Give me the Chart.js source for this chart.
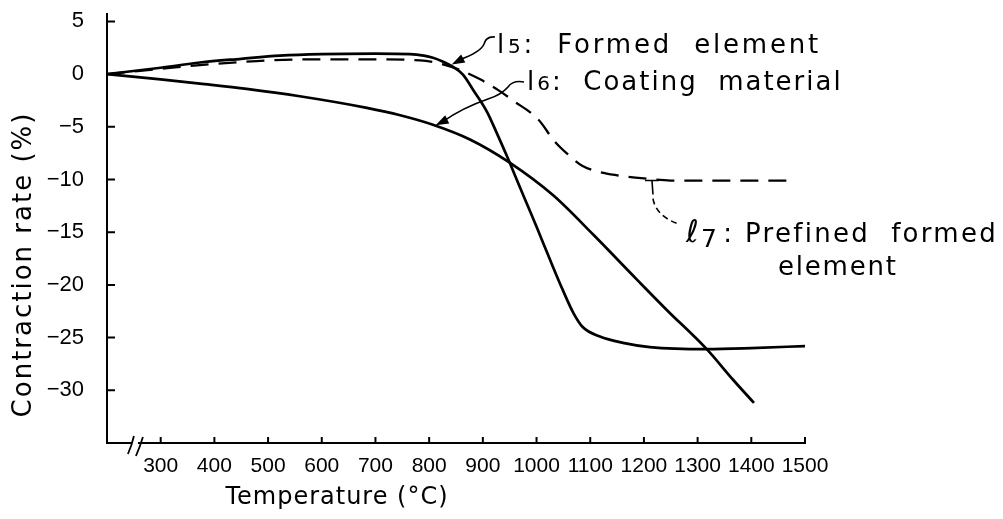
<!DOCTYPE html>
<html><head><meta charset="utf-8">
<script src="https://cdn.jsdelivr.net/npm/chart.js@4.4.0/dist/chart.umd.min.js"></script>
<style>html,body{margin:0;padding:0;background:#fff;overflow:hidden}#wrap{width:1003px;height:519px}</style>
</head><body><div id="wrap"><canvas id="c" width="1003" height="519"></canvas></div>
<script>
// ---- data (Temperature °C, contraction rate %) ----
const formedTemp = [200, 300, 373, 450, 522, 600, 700, 764, 790, 807, 825, 844, 863, 882, 908, 926, 945, 963, 982, 1001, 1025, 1049, 1068, 1086, 1118, 1161, 1211, 1317, 1400, 1500];
const formedRate = [0, 0.6, 1.1, 1.45, 1.75, 1.9, 1.95, 1.9, 1.75, 1.55, 1.2, 0.7, -0.05, -1.5, -3.6, -5.6, -7.8, -10, -12.3, -14.6, -17.6, -20.5, -22.6, -24, -24.9, -25.5, -25.9, -26.1, -26.0, -25.8];
const coatingTemp = [200, 300, 373, 460, 559, 684, 746, 807, 876, 950, 1031, 1105, 1187, 1243, 1317, 1366, 1405];
const coatingRate = [0, -0.5, -0.9, -1.4, -2.1, -3.2, -3.9, -4.8, -6.2, -8.4, -11.5, -15.2, -19.5, -22.4, -26.1, -29, -31.2];
const prefinedTemp = [200, 300, 373, 450, 500, 600, 700, 783, 820, 857, 895, 928, 956, 1003, 1034, 1058, 1085, 1118, 1150, 1200, 1250, 1350, 1470];
const prefinedRate = [0, 0.5, 0.85, 1.15, 1.3, 1.4, 1.4, 1.3, 1.0, 0.4, -0.5, -1.5, -2.5, -4.3, -6.4, -7.6, -8.7, -9.3, -9.6, -9.9, -10.1, -10.1, -10.1];
const xTickLabels = [300, 400, 500, 600, 700, 800, 900, 1000, 1100, 1200, 1300, 1400, 1500];
const yTickLabels = [-30, -25, -20, -15, -10, -5, 0, 5];
const seriesNames = ['l5: Formed element', 'l6: Coating material', 'l7: Prefined formed element'];

const pts = (xs, ys) => xs.map((v, i) => ({x: v, y: ys[i]}));

// allow letter spacing / offset on axis titles
const origDrawTitle = Chart.Scale.prototype.drawTitle;
Chart.Scale.prototype.drawTitle = function () {
  const t = this.options.title || {};
  const ctx = this.ctx;
  ctx.save();
  if (t.letterSpacing) ctx.letterSpacing = t.letterSpacing;
  ctx.translate(t.offsetX || 0, t.offsetY || 0);
  origDrawTitle.call(this);
  ctx.restore();
};

function drawRuns(ctx, x, y, runs, spacing) {
  ctx.letterSpacing = spacing + 'px';
  ctx.textBaseline = 'alphabetic';
  ctx.textAlign = 'left';
  ctx.fillStyle = '#000';
  runs.forEach(r => {
    ctx.font = r.font;
    ctx.fillText(r.t, x, y + (r.dy || 0));
    x += ctx.measureText(r.t).width + (r.dx || 0);
  });
}
function arrowHead(ctx, from, tip) {
  const a = Math.atan2(tip[1] - from[1], tip[0] - from[0]);
  const L = 13, W = 4.5, c = Math.cos(a), s = Math.sin(a);
  ctx.beginPath();
  ctx.moveTo(tip[0], tip[1]);
  ctx.lineTo(tip[0] - L * c + W * s, tip[1] - L * s - W * c);
  ctx.lineTo(tip[0] - L * c - W * s, tip[1] - L * s + W * c);
  ctx.closePath();
  ctx.fill();
}

const F = '"DejaVu Sans", sans-serif';
const decor = {
  id: 'decor',
  afterDraw(chart) {
    const {ctx, scales: {x, y}} = chart;
    ctx.save();
    ctx.strokeStyle = '#000';
    ctx.fillStyle = '#000';
    ctx.lineWidth = 2;
    // inward tick marks
    ctx.beginPath();
    x.ticks.forEach(t => { const p = x.getPixelForValue(t.value); ctx.moveTo(p, y.bottom); ctx.lineTo(p, y.bottom - 6); });
    y.ticks.forEach(t => { const p = y.getPixelForValue(t.value); ctx.moveTo(x.left, p); ctx.lineTo(x.left + 8, p); });
    ctx.stroke();
    // axis break "//"
    const bx = x.getPixelForValue(252), by = y.bottom;
    ctx.fillStyle = '#fff';
    ctx.fillRect(bx - 3, by - 3, 6, 6);
    ctx.fillStyle = '#000';
    ctx.lineWidth = 1.8;
    ctx.beginPath();
    ctx.moveTo(bx - 7, by + 11); ctx.quadraticCurveTo(bx - 3, by + 2, bx - 1, by - 7);
    ctx.moveTo(bx + 1, by + 13); ctx.quadraticCurveTo(bx + 5, by + 4, bx + 8, by - 6);
    ctx.stroke();

    // leader l5
    ctx.lineWidth = 1.6;
    const t5 = [x.getPixelForValue(842), y.getPixelForValue(0.9)];
    ctx.beginPath();
    ctx.moveTo(495, 37);
    ctx.quadraticCurveTo(486, 36, 484, 44);
    ctx.quadraticCurveTo(481, 52, t5[0] + 8, t5[1] - 5);
    ctx.stroke();
    arrowHead(ctx, [470, 55], t5);
    // leader l6
    const t6 = [x.getPixelForValue(812), y.getPixelForValue(-4.85)];
    ctx.beginPath();
    ctx.moveTo(524, 82);
    ctx.quadraticCurveTo(513, 80, 508, 87);
    ctx.quadraticCurveTo(501, 95, 488, 99);
    ctx.quadraticCurveTo(462, 108, t6[0] + 8, t6[1] - 4);
    ctx.stroke();
    arrowHead(ctx, [458, 114], t6);
    // leader l7 (dashed)
    const s7 = [x.getPixelForValue(1215), y.getPixelForValue(-10.1)];
    ctx.beginPath();
    ctx.moveTo(s7[0] - 7, s7[1]); ctx.lineTo(s7[0] + 7, s7[1]);
    ctx.moveTo(s7[0], s7[1]); ctx.lineTo(s7[0] + 1, s7[1] + 14);
    ctx.stroke();
    ctx.setLineDash([6, 4]);
    ctx.beginPath();
    ctx.moveTo(s7[0] + 1, s7[1] + 18);
    ctx.quadraticCurveTo(s7[0] + 4, s7[1] + 36, s7[0] + 28, s7[1] + 44);
    ctx.stroke();
    ctx.setLineDash([]);

    // annotation texts
    const big = '26px ' + F, small = '20px ' + F;
    drawRuns(ctx, 497, 53, [{t: 'l', font: big, dx: 1}, {t: '5', font: small}, {t: ':  Formed  element', font: big}], 2.8);
    drawRuns(ctx, 527, 90, [{t: 'l', font: big, dx: 1}, {t: '6', font: small}, {t: ':  Coating  material', font: big}], 2.0);
    drawRuns(ctx, 686, 242, [{t: 'ℓ', font: 'italic 31px ' + F, dx: 0}, {t: '7', font: '25px ' + F, dy: 5, dx: 4}, {t: ': Prefined  formed', font: big}], 2.3);
    drawRuns(ctx, 778, 275, [{t: 'element', font: big}], 1.8);
    ctx.restore();
  }
};

const lineStyle = {borderColor: '#000', borderWidth: 2.7, pointRadius: 0, fill: false, cubicInterpolationMode: 'monotone'};

new Chart(document.getElementById('c'), {
  type: 'line',
  data: {
    datasets: [
      Object.assign({label: seriesNames[0], data: pts(formedTemp, formedRate)}, lineStyle),
      Object.assign({label: seriesNames[1], data: pts(coatingTemp, coatingRate)}, lineStyle),
      Object.assign({label: seriesNames[2], data: pts(prefinedTemp, prefinedRate)}, lineStyle, {borderDash: [18, 10], borderWidth: 2.3})
    ]
  },
  options: {
    responsive: false,
    devicePixelRatio: 1,
    animation: false,
    layout: {padding: {left: 0, right: 198, top: 14, bottom: 0}},
    plugins: {legend: {display: false}, tooltip: {enabled: false}},
    scales: {
      x: {
        type: 'linear', min: 200, max: 1500,
        afterBuildTicks: s => { s.ticks = xTickLabels.map(v => ({value: v})); },
        afterFit: s => { s.height = 76; s.paddingLeft = 0; s.paddingRight = 0; },
        grid: {display: false},
        border: {display: true, color: '#000', width: 2},
        ticks: {color: '#000', padding: 3, maxRotation: 0, autoSkip: false, font: {family: '"Liberation Sans", sans-serif', size: 21}, callback: v => String(v)},
        title: {display: true, text: 'Temperature (°C)', color: '#000', font: {family: F, size: 24}, padding: {top: 0, bottom: 7}, letterSpacing: '1px', offsetX: -119}
      },
      y: {
        type: 'linear', min: -35, max: 5.7,
        afterBuildTicks: s => { s.ticks = yTickLabels.map(v => ({value: v})); },
        afterFit: s => { s.width = 107; s.paddingTop = 0; s.paddingBottom = 0; },
        grid: {display: false},
        border: {display: true, color: '#000', width: 2},
        ticks: {color: '#000', padding: 15, autoSkip: false, font: {family: '"Liberation Sans", sans-serif', size: 22}, callback: v => (v < 0 ? '\u2212' + Math.abs(v) : String(v))},
        title: {display: true, text: 'Contraction rate (%)', color: '#000', font: {family: F, size: 26}, padding: {top: 9, bottom: 0}, letterSpacing: '2px', offsetY: 36}
      }
    }
  },
  plugins: [decor]
});
</script>
</body></html>
